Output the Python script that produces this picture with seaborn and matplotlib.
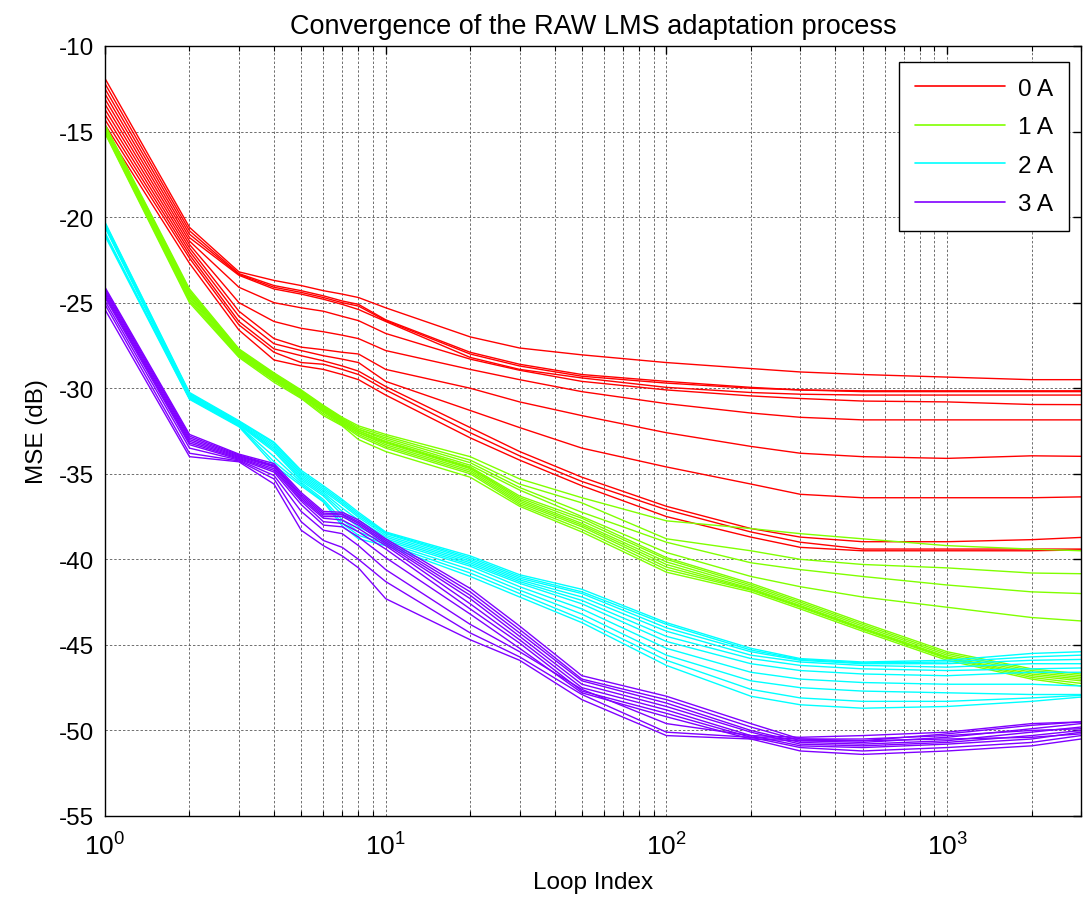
import numpy as np
import pandas as pd
import matplotlib
matplotlib.use("Agg")
import matplotlib.pyplot as plt
import seaborn as sns
from matplotlib.lines import Line2D
from matplotlib.ticker import LogLocator, NullFormatter

# ---------------- data ----------------
loop_index = [1, 2, 3, 4, 5, 6, 7, 8, 10, 20, 30, 50, 100, 200, 300, 500, 1000, 2000, 3000]

# rows follow loop_index, columns are the individual runs
mse_0A = [
    [-11.9, -12.2, -12.5, -12.8, -13.1, -13.4, -13.7, -14.0, -14.3, -14.6, -14.9],
    [-20.6, -20.8, -21.0, -21.2, -21.4, -21.6, -21.8, -22.0, -22.2, -22.4, -22.7],
    [-23.2, -23.3, -23.35, -23.4, -24.1, -25.0, -25.5, -25.8, -26.1, -26.3, -26.6],
    [-23.7, -24.0, -24.1, -24.2, -25.0, -26.1, -27.1, -27.4, -27.7, -27.9, -28.35],
    [-24.0, -24.3, -24.4, -24.5, -25.3, -26.5, -27.6, -27.8, -28.1, -28.5, -28.7],
    [-24.3, -24.6, -24.7, -24.8, -25.5, -26.7, -27.75, -28.1, -28.4, -28.6, -28.9],
    [-24.5, -24.9, -25.0, -25.1, -25.8, -26.9, -27.9, -28.3, -28.7, -28.9, -29.2],
    [-24.7, -25.1, -25.2, -25.4, -26.05, -27.1, -28.0, -28.5, -29.0, -29.2, -29.5],
    [-25.3, -26.0, -26.05, -26.1, -26.8, -27.8, -28.9, -29.6, -29.9, -30.1, -30.4],
    [-27.0, -27.9, -28.0, -28.2, -28.3, -28.9, -30.0, -31.3, -32.3, -32.6, -32.9],
    [-27.65, -28.6, -28.7, -28.9, -28.95, -29.5, -30.8, -32.3, -33.7, -33.95, -34.2],
    [-28.05, -29.2, -29.3, -29.4, -29.6, -30.2, -31.6, -33.5, -35.2, -35.45, -35.7],
    [-28.5, -29.6, -29.7, -29.95, -30.1, -30.9, -32.6, -34.6, -36.9, -37.1, -37.5],
    [-28.85, -29.95, -30.0, -30.25, -30.45, -31.45, -33.4, -35.6, -38.2, -38.4, -38.7],
    [-29.05, -30.1, -30.1, -30.35, -30.6, -31.7, -33.8, -36.2, -38.7, -39.0, -39.3],
    [-29.2, -30.15, -30.2, -30.4, -30.75, -31.85, -34.0, -36.4, -38.97, -39.4, -39.5],
    [-29.35, -30.15, -30.2, -30.4, -30.8, -31.85, -34.1, -36.4, -38.97, -39.4, -39.5],
    [-29.5, -30.15, -30.2, -30.4, -30.95, -31.85, -33.95, -36.4, -38.85, -39.4, -39.5],
    [-29.5, -30.15, -30.2, -30.4, -30.96, -31.85, -33.98, -36.35, -38.72, -39.4, -39.45],
]

mse_1A = [
    [-14.6, -14.65, -14.7, -14.75, -14.8, -14.85, -14.9, -14.95, -15.0, -15.05, -15.1],
    [-24.2, -24.3, -24.35, -24.4, -24.5, -24.55, -24.6, -24.7, -24.8, -24.9, -25.0],
    [-27.7, -27.75, -27.8, -27.85, -27.9, -27.95, -28.0, -28.05, -28.1, -28.15, -28.2],
    [-29.1, -29.15, -29.2, -29.25, -29.3, -29.35, -29.4, -29.45, -29.5, -29.55, -29.65],
    [-30.1, -30.15, -30.2, -30.25, -30.3, -30.35, -30.4, -30.45, -30.5, -30.55, -30.6],
    [-31.0, -31.05, -31.1, -31.15, -31.2, -31.25, -31.3, -31.35, -31.4, -31.5, -31.6],
    [-31.7, -31.75, -31.8, -31.85, -31.9, -31.95, -32.0, -32.05, -32.1, -32.15, -32.2],
    [-32.2, -32.3, -32.4, -32.4, -32.5, -32.5, -32.6, -32.6, -32.7, -32.8, -33.0],
    [-32.7, -32.8, -32.9, -33.0, -33.1, -33.15, -33.2, -33.3, -33.4, -33.5, -33.7],
    [-34.0, -34.2, -34.35, -34.5, -34.6, -34.65, -34.7, -34.8, -34.9, -35.0, -35.2],
    [-35.3, -35.6, -35.8, -35.95, -36.3, -36.4, -36.5, -36.6, -36.7, -36.8, -36.9],
    [-36.4, -36.7, -37.25, -37.5, -37.6, -37.75, -37.9, -38.0, -38.1, -38.25, -38.4],
    [-37.75, -38.8, -39.0, -39.6, -39.9, -40.0, -40.15, -40.3, -40.45, -40.6, -40.75],
    [-38.2, -39.5, -40.2, -41.0, -41.4, -41.5, -41.6, -41.7, -41.75, -41.8, -41.9],
    [-38.5, -40.0, -40.6, -41.6, -42.4, -42.5, -42.6, -42.7, -42.75, -42.8, -42.9],
    [-38.8, -40.3, -41.0, -42.2, -43.7, -43.8, -43.9, -44.0, -44.05, -44.1, -44.2],
    [-39.2, -40.5, -41.5, -42.8, -45.4, -45.5, -45.6, -45.7, -45.75, -45.8, -45.9],
    [-39.4, -40.8, -41.9, -43.4, -46.4, -46.5, -46.6, -46.7, -46.8, -46.9, -47.0],
    [-39.5, -40.84, -42.0, -43.6, -46.7, -46.8, -46.9, -47.0, -47.1, -47.25, -47.4],
]

mse_2A = [
    [-20.3, -20.35, -20.4, -20.45, -20.5, -20.55, -20.6, -20.9, -21.0, -21.1],
    [-30.25, -30.3, -30.35, -30.4, -30.45, -30.5, -30.55, -30.6, -30.6, -30.65],
    [-31.9, -31.95, -32.0, -32.05, -32.1, -32.1, -32.15, -32.2, -32.2, -32.25],
    [-33.15, -33.2, -33.3, -33.4, -33.5, -33.6, -33.7, -34.0, -34.3, -34.5],
    [-34.8, -34.9, -35.0, -35.1, -35.2, -35.3, -35.4, -35.5, -35.6, -35.7],
    [-35.7, -35.8, -35.9, -36.0, -36.1, -36.2, -36.3, -36.5, -36.6, -36.65],
    [-36.5, -36.6, -36.7, -36.8, -37.0, -37.2, -37.4, -37.7, -37.9, -38.05],
    [-37.25, -37.35, -37.45, -37.55, -37.7, -37.9, -38.1, -38.4, -38.6, -38.8],
    [-38.4, -38.45, -38.5, -38.6, -38.7, -38.8, -38.9, -39.0, -39.1, -39.2],
    [-39.8, -39.9, -40.0, -40.1, -40.2, -40.3, -40.4, -40.6, -40.8, -41.0],
    [-40.9, -41.0, -41.1, -41.2, -41.3, -41.4, -41.6, -41.8, -42.0, -42.2],
    [-41.75, -41.9, -42.0, -42.2, -42.4, -42.6, -42.9, -43.2, -43.5, -43.7],
    [-43.7, -43.8, -44.0, -44.2, -44.5, -44.8, -45.2, -45.6, -45.9, -46.2],
    [-45.2, -45.3, -45.4, -45.6, -45.8, -46.1, -46.6, -47.1, -47.6, -48.0],
    [-45.8, -45.85, -45.9, -46.0, -46.2, -46.5, -47.0, -47.5, -48.1, -48.5],
    [-46.0, -46.05, -46.1, -46.2, -46.4, -46.7, -47.2, -47.7, -48.3, -48.7],
    [-45.9, -46.0, -46.1, -46.3, -46.5, -46.8, -47.3, -47.8, -48.3, -48.6],
    [-45.5, -45.7, -45.9, -46.1, -46.4, -46.6, -47.3, -47.9, -48.1, -48.3],
    [-45.4, -45.6, -45.85, -46.1, -46.35, -46.6, -47.4, -47.9, -47.95, -48.05],
]

mse_3A = [
    [-24.1, -24.2, -24.3, -24.4, -24.5, -24.6, -24.7, -24.9, -25.1, -25.4],
    [-32.7, -32.8, -32.9, -33.0, -33.1, -33.2, -33.3, -33.5, -33.8, -34.0],
    [-33.85, -33.9, -33.95, -34.0, -34.05, -34.1, -34.15, -34.2, -34.25, -34.3],
    [-34.4, -34.5, -34.55, -34.6, -34.7, -34.8, -34.9, -35.1, -35.3, -35.6],
    [-36.1, -36.2, -36.3, -36.4, -36.5, -36.6, -36.8, -37.2, -37.8, -38.3],
    [-37.2, -37.3, -37.4, -37.5, -37.6, -37.8, -38.0, -38.3, -38.9, -39.2],
    [-37.25, -37.35, -37.4, -37.5, -37.7, -37.9, -38.1, -38.5, -39.3, -39.8],
    [-37.7, -37.8, -37.9, -38.0, -38.2, -38.4, -38.7, -39.2, -40.0, -40.5],
    [-38.8, -38.9, -39.0, -39.1, -39.2, -39.4, -39.9, -40.6, -41.3, -42.3],
    [-41.7, -41.9, -42.1, -42.3, -42.6, -42.9, -43.2, -43.8, -44.3, -44.7],
    [-43.9, -44.1, -44.3, -44.5, -44.7, -44.9, -45.2, -45.4, -45.7, -45.9],
    [-46.8, -47.0, -47.1, -47.3, -47.5, -47.7, -47.8, -47.6, -47.9, -48.2],
    [-48.0, -48.2, -48.4, -48.6, -48.8, -49.0, -49.2, -49.6, -50.1, -50.3],
    [-49.6, -49.8, -50.0, -50.1, -50.3, -50.4, -50.5, -50.3, -50.4, -50.5],
    [-50.5, -50.6, -50.7, -50.8, -50.9, -51.0, -51.2, -50.4, -50.5, -50.6],
    [-50.6, -50.7, -50.8, -50.9, -51.0, -51.2, -51.4, -50.3, -50.5, -50.6],
    [-50.2, -50.4, -50.6, -50.7, -50.8, -51.0, -51.2, -50.1, -50.3, -50.5],
    [-49.7, -49.9, -50.1, -50.3, -50.5, -50.7, -50.9, -49.6, -50.0, -50.4],
    [-49.5, -49.6, -49.8, -50.0, -50.1, -50.3, -50.5, -49.5, -49.9, -50.2],
]

group_labels = ["0 A", "1 A", "2 A", "3 A"]
group_colors = ["#ff0000", "#80ff00", "#00ffff", "#8000ff"]
group_tables = [mse_0A, mse_1A, mse_2A, mse_3A]
y_ticks = [-55, -50, -45, -40, -35, -30, -25, -20, -15, -10]

# ---------------- long-form frame ----------------
frames = []
for label, table in zip(group_labels, group_tables):
    arr = np.array(table)
    for run in range(arr.shape[1]):
        frames.append(pd.DataFrame({
            "Loop Index": loop_index,
            "MSE (dB)": arr[:, run],
            "Current": label,
            "Run": f"{label}-{run}",
        }))
df = pd.concat(frames, ignore_index=True)

# ---------------- plot ----------------
sns.set_style("white")
plt.rcParams["font.family"] = ["Liberation Sans", "DejaVu Sans"]
plt.rcParams["mathtext.fontset"] = "custom"
plt.rcParams["mathtext.rm"] = "Liberation Sans"
plt.rcParams["axes.unicode_minus"] = False
for key in ["text.color", "axes.labelcolor", "xtick.color", "ytick.color"]:
    plt.rcParams[key] = "black"

W, H = 1085, 904
fig = plt.figure(figsize=(W / 100, H / 100), dpi=100)
ax = fig.add_axes([105 / W, 1 - 817 / H, (1081 - 105) / W, (817 - 47) / H])

palette = dict(zip(group_labels, group_colors))
sns.lineplot(data=df, x="Loop Index", y="MSE (dB)", hue="Current", units="Run",
             estimator=None, palette=palette, linewidth=1.0, ax=ax,
             legend=False, sort=False)

ax.set_xscale("log")
ax.set_xlim(1, 3000)
ax.set_ylim(-55, -10)
ax.set_yticks(y_ticks)
ax.xaxis.set_major_locator(LogLocator(base=10, numticks=10))
ax.xaxis.set_minor_locator(LogLocator(base=10, subs=np.arange(2, 10), numticks=20))
ax.xaxis.set_minor_formatter(NullFormatter())

grid_kw = dict(color="#555555", linestyle=(0, (2.5, 2)), linewidth=0.7, alpha=0.85)
ax.grid(True, which="major", axis="both", **grid_kw)
ax.grid(True, which="minor", axis="x", **grid_kw)
ax.set_axisbelow(True)

fs = 17.5
ax.tick_params(axis="both", which="major", direction="in", length=6, width=1,
               top=True, right=True, labelsize=fs, colors="black")
ax.tick_params(axis="x", which="major", pad=12, labelsize=19)
ax.tick_params(axis="y", which="major", pad=8)
ax.tick_params(axis="x", which="minor", direction="in", length=3.5, width=0.8,
               top=True, bottom=True)
for sp in ax.spines.values():
    sp.set_color("black")
    sp.set_linewidth(1.0)

ax.set_title("Convergence of the RAW LMS adaptation process", fontsize=19.5, pad=9,
             color="black")
ax.set_xlabel("Loop Index", fontsize=fs, labelpad=8)
ax.set_ylabel("MSE (dB)", fontsize=fs, labelpad=8)

handles = [Line2D([0], [0], color=c, lw=1.2) for c in group_colors]
leg = ax.legend(handles, group_labels, loc="upper right",
                bbox_to_anchor=((1069 - 105) / 976, 1 - (63 - 47) / 770),
                borderaxespad=0, fontsize=fs, frameon=True, fancybox=False,
                edgecolor="black", handlelength=3.7, handletextpad=0.55,
                labelspacing=0.68, borderpad=0.65)
leg.get_frame().set_linewidth(1.0)
leg.get_frame().set_alpha(1)

fig.savefig("out.png", dpi=100)
